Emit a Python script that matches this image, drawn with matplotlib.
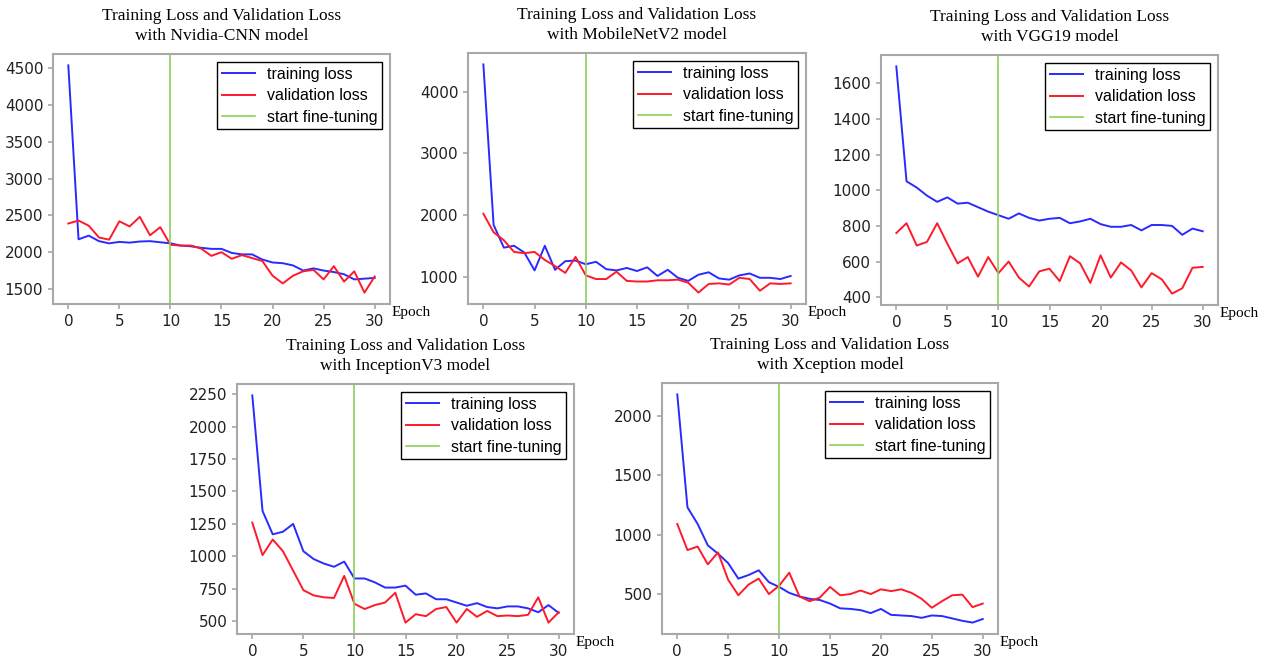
import matplotlib
matplotlib.use("Agg")
import matplotlib.pyplot as plt
import numpy as np

epochs = np.arange(31)

# Nvidia-CNN
nvidia_train = [4540, 2175, 2225, 2150, 2120, 2140, 2130, 2145, 2150, 2135, 2120,
                2090, 2080, 2060, 2045, 2045, 1990, 1970, 1970, 1900, 1860,
                1850, 1820, 1750, 1780, 1750, 1730, 1700, 1630, 1640, 1650]
nvidia_val = [2390, 2430, 2360, 2200, 2170, 2420, 2350, 2480, 2230, 2340, 2100,
              2090, 2090, 2050, 1950, 2000, 1910, 1960, 1920, 1880, 1680,
              1575, 1680, 1740, 1760, 1630, 1810, 1600, 1740, 1450, 1670]

# MobileNetV2
mobile_train = [4445, 1840, 1470, 1500, 1390, 1100, 1500, 1110, 1250, 1260, 1200,
                1240, 1120, 1100, 1140, 1090, 1150, 1010, 1110, 980, 930,
                1030, 1070, 970, 950, 1020, 1050, 980, 980, 960, 1010]
mobile_val = [2020, 1720, 1590, 1400, 1380, 1400, 1270, 1170, 1060, 1320, 1020,
              960, 960, 1080, 930, 920, 920, 940, 940, 950, 900,
              740, 880, 890, 870, 980, 960, 770, 890, 880, 890]

# VGG19
vgg_train = [1695, 1050, 1015, 970, 935, 960, 925, 930, 905, 880, 860,
             840, 870, 845, 830, 840, 845, 815, 825, 840, 810,
             795, 795, 805, 775, 805, 805, 800, 750, 785, 770]
vgg_val = [760, 815, 690, 710, 815, 700, 590, 625, 515, 625, 535,
           600, 510, 460, 545, 560, 490, 630, 590, 480, 635,
           510, 595, 550, 455, 535, 500, 420, 450, 565, 570]

# InceptionV3
incep_train = [2240, 1350, 1170, 1190, 1250, 1040, 980, 945, 920, 960, 830,
               830, 800, 760, 760, 775, 705, 715, 670, 670, 645,
               620, 640, 610, 600, 615, 615, 600, 570, 625, 565]
incep_val = [1260, 1010, 1130, 1040, 890, 740, 700, 685, 680, 850, 635,
             595, 625, 645, 720, 490, 555, 540, 595, 610, 490,
             595, 535, 580, 540, 545, 540, 550, 685, 490, 570]

# Xception
xcep_train = [2180, 1230, 1090, 910, 840, 760, 630, 660, 700, 600, 560,
              510, 480, 460, 450, 420, 380, 375, 365, 340, 375,
              325, 320, 315, 300, 320, 315, 295, 275, 260, 290]
xcep_val = [1090, 870, 900, 750, 850, 620, 490, 580, 630, 500, 570,
            680, 480, 440, 470, 560, 490, 500, 530, 500, 540,
            525, 540, 510, 460, 385, 440, 490, 495, 390, 420]

models = ["Nvidia-CNN", "MobileNetV2", "VGG19", "InceptionV3", "Xception"]
train_sets = [nvidia_train, mobile_train, vgg_train, incep_train, xcep_train]
val_sets = [nvidia_val, mobile_val, vgg_val, incep_val, xcep_val]
finetune_epoch = 10

W, H = 1266, 659
# axes boxes in pixels: left, top, right, bottom
boxes = [(53, 54, 390, 304), (468, 53, 806, 304), (881, 55, 1218, 305),
         (237, 384, 574, 634), (662, 383, 998, 634)]

fig = plt.figure(figsize=(W / 100, H / 100), dpi=100)
serif = "Liberation Serif"
spine_col = "#a8a8a8"

for name, tr, va, (l, t, r, b) in zip(models, train_sets, val_sets, boxes):
    ax = fig.add_axes([l / W, 1 - b / H, (r - l) / W, (b - t) / H])
    ax.plot(epochs, tr, color="#2a2aff", lw=1.4, label="training loss")
    ax.plot(epochs, va, color="#ff1a2a", lw=1.4, label="validation loss")
    ax.axvline(finetune_epoch, color="#8ccf5a", lw=1.2, label="start fine-tuning")
    ax.set_xticks([0, 5, 10, 15, 20, 25, 30])
    for s in ax.spines.values():
        s.set_color(spine_col)
        s.set_linewidth(1.5)
    ax.tick_params(colors="#222222", labelsize=11, color=spine_col, width=1.2)
    ax.set_title("Training Loss and Validation Loss\nwith %s model" % name,
                 family=serif, fontsize=12.5, pad=10, linespacing=1.35)
    ax.text(1.006, -0.035, "Epoch", transform=ax.transAxes, family=serif,
            fontsize=11, ha="left", va="center")
    leg = ax.legend(loc="upper right", fancybox=False, framealpha=1,
                    prop={"family": "Liberation Sans", "size": 11.5},
                    handlelength=2.1, borderpad=0.3, labelspacing=0.4,
                    handletextpad=0.7)
    leg.get_frame().set_edgecolor("black")
    leg.get_frame().set_linewidth(1.0)

fig.savefig("out.png", dpi=100)
